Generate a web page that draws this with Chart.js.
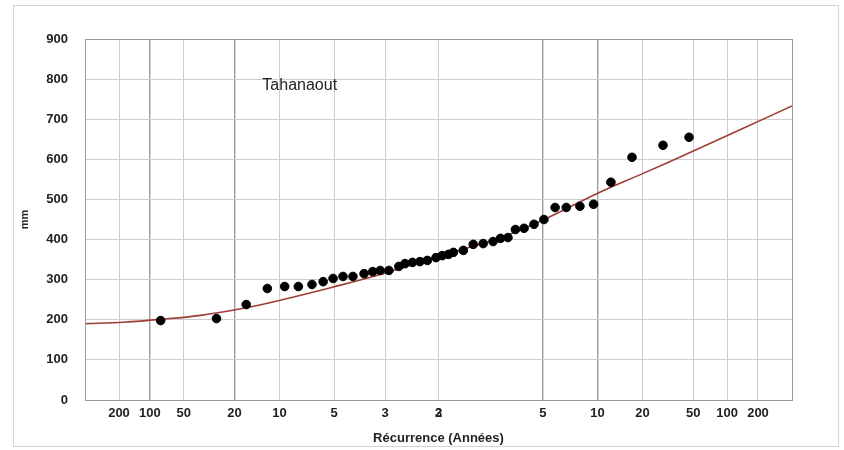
<!DOCTYPE html>
<html>
<head>
<meta charset="utf-8">
<script src="https://cdn.jsdelivr.net/npm/chart.js@4"></script>
<style>
  html, body { margin: 0; padding: 0; background: #fff; }
  #wrap { width: 844px; height: 450px; }
</style>
</head>
<body>
<div id="wrap"><canvas id="chart" width="844" height="450"></canvas></div>
<script>
// observed annual totals (mm) against their Gauss reduced variate
const obsZ = [-2.24, -1.79, -1.55, -1.38, -1.24, -1.13, -1.02, -0.93, -0.85, -0.77,
              -0.69, -0.60, -0.53, -0.47, -0.40, -0.32, -0.27, -0.21, -0.15, -0.09,
              -0.02, 0.03, 0.08, 0.12, 0.20, 0.28, 0.36, 0.44, 0.50, 0.56,
              0.62, 0.69, 0.77, 0.85, 0.94, 1.03, 1.14, 1.25, 1.39, 1.56,
              1.81, 2.02];
const obsMm = [198, 203, 238, 278, 283, 283, 288, 295, 303, 308,
               308, 315, 320, 323, 323, 333, 340, 343, 345, 348,
               355, 360, 363, 368, 373, 388, 390, 395, 403, 405,
               425, 428, 438, 450, 480, 480, 483, 488, 543, 605,
               635, 655];

// fitted curve
const fitZ = [-2.85, -2.54, -2.24, -1.92, -1.55, -1.26, -0.87, -0.47, 0, 0.50,
              0.85, 1.28, 1.65, 2.05, 2.44, 2.85];
const fitMm = [190, 194, 201, 211, 230, 250, 280, 313, 358, 405,
               450, 515, 565, 620, 675, 733];

// recurrence tick labels (years), dry side then wet side
const dryPeriods = [200, 100, 50, 20, 10, 5, 3];
const wetPeriods = [5, 10, 20, 50, 100, 200];
const centreLabels = ['3', '2']; // both printed on the median line
const darkPeriods = { dry: [100, 20], wet: [5, 10] };

const yTicks = [0, 100, 200, 300, 400, 500, 600, 700, 800, 900];
const stationName = 'Tahanaout';

// inverse of the normal CDF (Acklam)
function normInv(p) {
  const a = [-39.6968302866538, 220.946098424521, -275.928510446969, 138.357751867269, -30.6647980661472, 2.50662827745924];
  const b = [-54.4760987982241, 161.585836858041, -155.698979859887, 66.8013118877197, -13.2806815528857];
  const c = [-0.00778489400243029, -0.322396458041136, -2.40075827716184, -2.54973253934373, 4.37466414146497, 2.93816398269878];
  const d = [0.00778469570904146, 0.32246712907004, 2.445134137143, 3.75440866190742];
  const pl = 0.02425;
  let q, r;
  if (p < pl) {
    q = Math.sqrt(-2 * Math.log(p));
    return (((((c[0]*q+c[1])*q+c[2])*q+c[3])*q+c[4])*q+c[5]) / ((((d[0]*q+d[1])*q+d[2])*q+d[3])*q+1);
  }
  if (p > 1 - pl) {
    q = Math.sqrt(-2 * Math.log(1 - p));
    return -(((((c[0]*q+c[1])*q+c[2])*q+c[3])*q+c[4])*q+c[5]) / ((((d[0]*q+d[1])*q+d[2])*q+d[3])*q+1);
  }
  q = p - 0.5; r = q * q;
  return (((((a[0]*r+a[1])*r+a[2])*r+a[3])*r+a[4])*r+a[5])*q / (((((b[0]*r+b[1])*r+b[2])*r+b[3])*r+b[4])*r+1);
}

const tickDefs = [];
dryPeriods.forEach(T => tickDefs.push({ z: normInv(1 / T), label: String(T), dark: darkPeriods.dry.includes(T) }));
centreLabels.forEach(l => tickDefs.push({ z: 0, label: l, dark: false }));
wetPeriods.forEach(T => tickDefs.push({ z: normInv(1 - 1 / T), label: String(T), dark: darkPeriods.wet.includes(T) }));

const frame = {
  id: 'frame',
  beforeDraw(chart) {
    const c = chart.ctx;
    c.save();
    c.fillStyle = '#fff';
    c.fillRect(0, 0, chart.width, chart.height);
    c.strokeStyle = '#d4d4d4';
    c.lineWidth = 1;
    c.strokeRect(13.5, 5.5, 825, 441);
    c.restore();
  },
  afterDraw(chart) {
    const c = chart.ctx, a = chart.chartArea;
    c.save();
    c.strokeStyle = '#9a9a9a';
    c.lineWidth = 1;
    c.strokeRect(Math.round(a.left) + 0.5, Math.round(a.top) + 0.5, Math.round(a.right - a.left), Math.round(a.bottom - a.top));
    c.fillStyle = '#222';
    c.font = '16px "Liberation Sans", Arial, sans-serif';
    c.textBaseline = 'middle';
    c.fillText(stationName, chart.scales.x.getPixelForValue(-1.42), chart.scales.y.getPixelForValue(783));
    c.restore();
  }
};

new Chart(document.getElementById('chart'), {
  type: 'scatter',
  data: {
    datasets: [{
        data: obsZ.map((z, i) => ({ x: z, y: obsMm[i] })),
        backgroundColor: '#000',
        borderColor: '#000',
        pointRadius: 4.3,
        order: 1
      },
      {
        type: 'line',
        data: fitZ.map((z, i) => ({ x: z, y: fitMm[i] })),
        borderColor: '#9e3d37',
        borderWidth: 1.6,
        pointRadius: 0,
        tension: 0.4,
        fill: false,
        order: 2
      }
    ]
  },
  plugins: [frame],
  options: {
    responsive: false,
    animation: false,
    layout: { padding: { left: 14, right: 52, top: 39, bottom: 2 } },
    plugins: { legend: { display: false }, tooltip: { enabled: false } },
    scales: {
      x: {
        type: 'linear',
        min: -2.85,
        max: 2.85,
        afterBuildTicks: scale => { scale.ticks = tickDefs.map(t => ({ value: t.z })); },
        afterFit: scale => { scale.height = 48; },
        ticks: {
          autoSkip: false,
          maxRotation: 0,
          padding: 6,
          color: '#222',
          font: { family: '"Liberation Sans", Arial, sans-serif', size: 13, weight: 'bold' },
          callback: (v, i) => tickDefs[i] ? tickDefs[i].label : ''
        },
        grid: {
          drawTicks: false,
          color: ctx => (tickDefs[ctx.index] && tickDefs[ctx.index].dark) ? '#9c9c9c' : '#cdcdcd',
          lineWidth: ctx => (tickDefs[ctx.index] && tickDefs[ctx.index].dark) ? 1.4 : 1
        },
        border: { color: '#9a9a9a' },
        title: {
          display: true,
          text: 'Récurrence (Années)',
          color: '#222',
          padding: { top: 0, bottom: 2 },
          font: { family: '"Liberation Sans", Arial, sans-serif', size: 13, weight: 'bold' }
        }
      },
      y: {
        min: 0,
        max: 900,
        afterBuildTicks: scale => { scale.ticks = yTicks.map(v => ({ value: v })); },
        afterFit: scale => { scale.width = 71; },
        ticks: {
          padding: 17,
          color: '#222',
          font: { family: '"Liberation Sans", Arial, sans-serif', size: 13, weight: 'bold' }
        },
        grid: { drawTicks: false, color: '#cdcdcd' },
        border: { color: '#9a9a9a' },
        title: {
          display: true,
          text: 'mm',
          color: '#222',
          padding: { top: 4, bottom: 0 },
          font: { family: '"Liberation Sans", Arial, sans-serif', size: 11, weight: 'bold' }
        }
      }
    }
  }
});
</script>
</body>
</html>
